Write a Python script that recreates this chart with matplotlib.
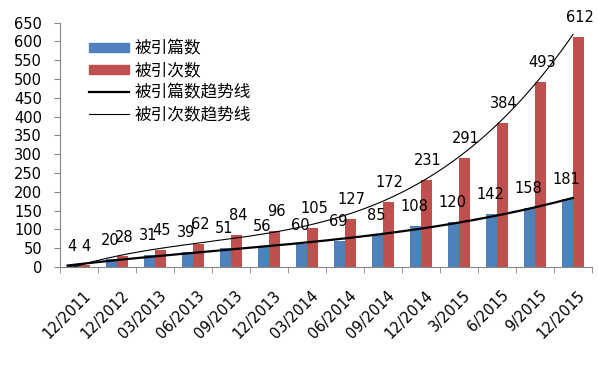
import matplotlib

matplotlib.use("Agg")
import matplotlib.pyplot as plt
import numpy as np
from matplotlib.lines import Line2D
from matplotlib.patches import Patch

plt.rcParams["font.family"] = ["Noto Sans CJK SC", "DejaVu Sans"]

# Data
periods = ["12/2011", "12/2012", "03/2013", "06/2013", "09/2013", "12/2013", "03/2014",
           "06/2014", "09/2014", "12/2014", "3/2015", "6/2015", "9/2015", "12/2015"]
papers_cited = [4, 20, 31, 39, 51, 56, 60, 69, 85, 108, 120, 142, 158, 181]
times_cited = [4, 28, 45, 62, 84, 96, 105, 127, 172, 231, 291, 384, 493, 612]

BLUE = "#4F81BD"
RED = "#C0504D"
AXIS = "#868686"
NUM_FONT = "DejaVu Sans"
NUM_SIZE = 10.5

fig = plt.figure(figsize=(5.99, 3.72), dpi=100)
ax = fig.add_axes([60 / 599, 1 - 267 / 372, 532 / 599, (267 - 22.7) / 372])

x = np.arange(len(periods))
w = 0.29
ax.bar(x - w / 2, papers_cited, width=w, color=BLUE, zorder=2)
ax.bar(x + w / 2, times_cited, width=w, color=RED, zorder=2)

# polynomial trend lines (Excel-style), slightly extended backwards
xs = np.linspace(-0.3, x[-1], 300)
for vals, lw in ((papers_cited, 1.6), (times_cited, 0.8)):
    coef = np.polyfit(x, vals, 3)
    ys = np.clip(np.polyval(coef, xs), 0, None)
    ax.plot(xs, ys, color="black", lw=lw, zorder=3)

# value labels above each bar
for xi, b, r in zip(x, papers_cited, times_cited):
    ax.annotate(str(b), (xi - w / 2, b), xytext=(-1, 14), textcoords="offset points",
                ha="center", va="center", fontsize=NUM_SIZE, family=NUM_FONT, zorder=4)
    ax.annotate(str(r), (xi + w / 2, r), xytext=(1, 14), textcoords="offset points",
                ha="center", va="center", fontsize=NUM_SIZE, family=NUM_FONT, zorder=4)

ax.set_xlim(-0.5, len(periods) - 0.5)
ax.set_ylim(0, 650)
ax.set_yticks(np.arange(0, 651, 50))
ax.set_xticks(x + 0.1)
ax.set_xticklabels(periods, rotation=45, ha="right", rotation_mode="anchor",
                   family=NUM_FONT, fontsize=NUM_SIZE)
ax.set_xticks(np.arange(-0.5, len(periods)), minor=True)
ax.tick_params(axis="x", which="major", length=0, pad=15)
ax.tick_params(axis="x", which="minor", length=4, color=AXIS)
ax.tick_params(axis="y", length=4, color=AXIS, labelsize=NUM_SIZE, pad=9)
for lab in ax.get_yticklabels():
    lab.set_family(NUM_FONT)

for side in ("top", "right"):
    ax.spines[side].set_visible(False)
for side in ("left", "bottom"):
    ax.spines[side].set_color(AXIS)

handles = [
    Patch(color=BLUE, label="被引篇数"),
    Patch(color=RED, label="被引次数"),
    Line2D([], [], color="black", lw=1.6, label="被引篇数趋势线"),
    Line2D([], [], color="black", lw=0.8, label="被引次数趋势线"),
]
ax.legend(handles=handles, loc="upper left", bbox_to_anchor=(0.033, 0.975), frameon=False,
          fontsize=12, handlelength=2.4, handleheight=0.5, labelspacing=0.3,
          handletextpad=0.3, borderpad=0.2)

fig.savefig("out.png", dpi=100)
